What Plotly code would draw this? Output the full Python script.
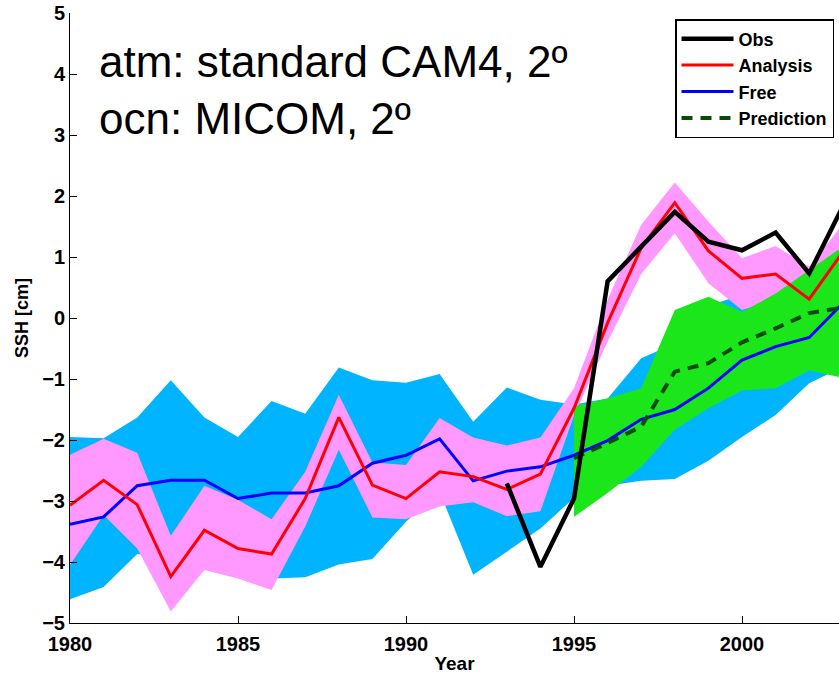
import plotly.graph_objects as go

# ---------------- data ----------------
years = list(range(1980, 2004))

analysis = [-3.07, -2.66, -3.06, -4.24, -3.48, -3.78, -3.87, -2.96, -1.63, -2.74,
            -2.96, -2.52, -2.60, -2.81, -2.56, -1.48, -0.08, 1.15, 1.89, 1.10,
            0.65, 0.72, 0.31, 1.08]
analysis_hi = [-2.24, -1.98, -2.21, -3.57, -2.75, -2.98, -3.30, -2.52, -1.26, -2.37,
               -2.41, -1.64, -1.96, -2.09, -1.96, -1.15, 0.30, 1.53, 2.22, 1.58,
               0.98, 1.18, 0.84, 1.54]
analysis_lo = [-4.05, -3.23, -3.78, -4.81, -4.13, -4.27, -4.46, -3.42, -2.16, -3.27,
               -3.30, -3.09, -3.02, -3.25, -3.17, -1.60, -0.39, 0.72, 1.39, 0.57,
               0.13, 0.30, -0.10, 0.55]

free = [-3.38, -3.26, -2.75, -2.66, -2.66, -2.96, -2.87, -2.87, -2.75, -2.38,
        -2.25, -1.98, -2.67, -2.51, -2.44, -2.25, -2.01, -1.66, -1.50, -1.15,
        -0.69, -0.47, -0.32, 0.24]
free_hi = [-1.95, -1.97, -1.63, -1.02, -1.63, -1.95, -1.36, -1.57, -0.81, -1.02,
           -1.06, -0.92, -1.70, -1.14, -1.34, -1.42, -1.32, -0.66, -0.42, 0.20,
           0.38, 0.50, 0.65, 0.95]
free_lo = [-4.61, -4.41, -3.87, -3.95, -4.05, -4.20, -4.27, -4.25, -4.04, -3.95,
           -3.34, -2.85, -4.21, -3.83, -3.45, -2.95, -2.75, -2.67, -2.64, -2.34,
           -1.95, -1.59, -1.07, -0.80]

pred_years = list(range(1995, 2004))
prediction = [-2.30, -2.05, -1.78, -0.88, -0.74, -0.40, -0.17, 0.08, 0.17]
prediction_hi = [-1.45, -1.32, -1.15, 0.13, 0.35, 0.10, 0.40, 0.79, 1.17]
prediction_lo = [-3.26, -2.87, -2.44, -1.83, -1.48, -1.19, -1.15, -0.86, -0.98]

obs_years = list(range(1993, 2004))
obs = [-2.71, -4.08, -2.96, 0.60, 1.17, 1.74, 1.25, 1.11, 1.40, 0.73, 1.83]

x_ticks = [1980, 1985, 1990, 1995, 2000]
y_ticks = [-5, -4, -3, -2, -1, 0, 1, 2, 3, 4, 5]

# ---------------- styles ----------------
CYAN = "rgb(0,180,255)"
PINK = "rgb(255,153,255)"
GREEN = "rgb(26,230,26)"
DKGREEN = "rgb(10,75,10)"
FONT = "Liberation Sans, Arial, Helvetica, sans-serif"


def band(xs, lo, hi, color):
    return go.Scatter(x=xs + xs[::-1], y=hi + lo[::-1], fill="toself",
                      fillcolor=color, line=dict(width=0), mode="lines",
                      showlegend=False, hoverinfo="skip")


fig = go.Figure()
fig.add_trace(band(years, free_lo, free_hi, CYAN))
fig.add_trace(band(years, analysis_lo, analysis_hi, PINK))
fig.add_trace(band(pred_years, prediction_lo, prediction_hi, GREEN))

fig.add_trace(go.Scatter(x=years, y=free, mode="lines", name="Free",
                         line=dict(color="rgb(0,0,255)", width=3), legendrank=3))
fig.add_trace(go.Scatter(x=pred_years, y=prediction, mode="lines", name="Prediction",
                         line=dict(color=DKGREEN, width=4, dash="11px,8px"),
                         legendrank=4))
fig.add_trace(go.Scatter(x=years, y=analysis, mode="lines", name="Analysis",
                         line=dict(color="rgb(255,0,0)", width=3), legendrank=2))
fig.add_trace(go.Scatter(x=obs_years, y=obs, mode="lines", name="Obs",
                         line=dict(color="black", width=4.5), legendrank=1))

W, H = 839, 675
L, R, T, B = 70, 0, 13, 52
pw = W - L - R
ph = H - T - B
px_per_year = 33.6
x_end = 1980 + pw / px_per_year

fig.update_layout(
    width=W, height=H,
    margin=dict(l=L, r=R, t=T, b=B, pad=0),
    paper_bgcolor="white", plot_bgcolor="white",
    font=dict(family=FONT, color="black"),
    showlegend=True,
    legend=dict(
        x=(834 - L) / pw, xanchor="right",
        y=(H - B - 19) / ph, yanchor="top",
        bgcolor="white", bordercolor="black", borderwidth=1.5,
        font=dict(family=FONT, size=18, weight="bold", color="black"),
        itemwidth=52, tracegroupgap=0,
    ),
    xaxis=dict(
        range=[1980, x_end], tickvals=x_ticks, ticks="inside", ticklen=7,
        tickwidth=1, tickcolor="black", showline=True, linecolor="black",
        linewidth=1, showgrid=False, zeroline=False,
        tickfont=dict(family=FONT, size=20, weight="bold"),
        ticklabelstandoff=3,
        title=dict(text="Year", font=dict(family=FONT, size=19, weight="bold"),
                   standoff=2),
        automargin=False,
    ),
    yaxis=dict(
        range=[-5, 5], tickvals=y_ticks, ticks="inside", ticklen=7,
        tickwidth=1, tickcolor="black", showline=True, linecolor="black",
        linewidth=1, showgrid=False, zeroline=False,
        tickfont=dict(family=FONT, size=20, weight="bold"),
        title=dict(text="SSH [cm]", font=dict(family=FONT, size=18, weight="bold"),
                   standoff=8),
        automargin=False,
    ),
    annotations=[dict(
        text="atm: standard CAM4, 2º<br>ocn: MICOM, 2º",
        xref="paper", yref="paper",
        x=(97 - L) / pw, xanchor="left",
        y=(H - B - 35) / ph, yanchor="top",
        align="left", showarrow=False,
        font=dict(family=FONT, size=44, color="black"),
    )],
)

fig.write_html("out.html")
